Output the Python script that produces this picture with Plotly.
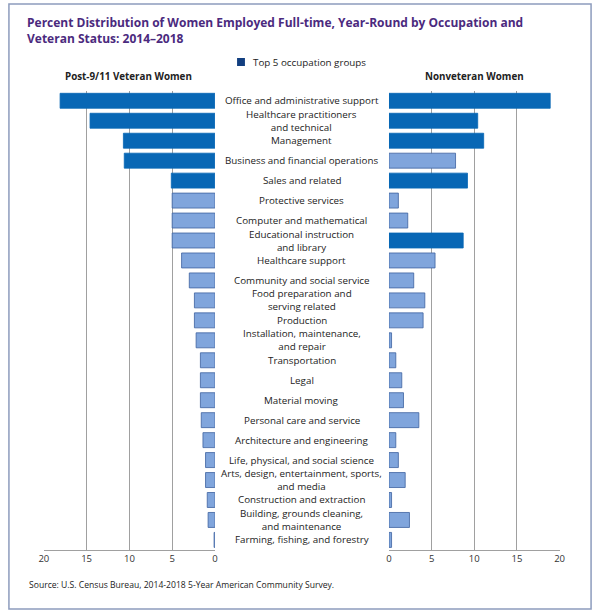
import plotly.graph_objects as go

categories = [
    "Office and administrative support",
    "Healthcare practitioners<br>and technical",
    "Management",
    "Business and financial operations",
    "Sales and related",
    "Protective services",
    "Computer and mathematical",
    "Educational instruction<br>and library",
    "Healthcare support",
    "Community and social service",
    "Food preparation and<br>serving related",
    "Production",
    "Installation, maintenance,<br>and repair",
    "Transportation",
    "Legal",
    "Material moving",
    "Personal care and service",
    "Architecture and engineering",
    "Life, physical, and social science",
    "Arts, design, entertainment, sports,<br>and media",
    "Construction and extraction",
    "Building, grounds cleaning,<br>and maintenance",
    "Farming, fishing, and forestry",
]

veteran = [18.1, 14.6, 10.7, 10.6, 5.1, 5.0, 5.0, 5.0, 3.9, 3.0, 2.4, 2.4,
           2.2, 1.7, 1.7, 1.7, 1.6, 1.4, 1.1, 1.1, 0.9, 0.8, 0.1]
nonveteran = [18.9, 10.4, 11.1, 7.8, 9.2, 1.1, 2.2, 8.7, 5.4, 2.9, 4.2, 4.0,
              0.3, 0.8, 1.5, 1.7, 3.5, 0.8, 1.1, 1.9, 0.3, 2.4, 0.3]
vet_top5 = ["Office and administrative support", "Healthcare practitioners<br>and technical",
            "Management", "Business and financial operations", "Sales and related"]
nonvet_top5 = ["Office and administrative support", "Healthcare practitioners<br>and technical",
               "Management", "Sales and related", "Educational instruction<br>and library"]
tick_vals = [0, 5, 10, 15, 20]

DARK = "#0867b5"
LIGHT = "#80a5dc"
EDGE = "#3d62a0"

ypos = list(range(len(categories)))

def colors(top):
    return [DARK if c in top else LIGHT for c in categories]

def edges(top):
    return [DARK if c in top else EDGE for c in categories]

fig = go.Figure()
fig.add_trace(go.Bar(x=veteran, y=ypos, orientation="h", xaxis="x", yaxis="y",
                     marker=dict(color=colors(vet_top5), line=dict(color=edges(vet_top5), width=0.8)),
                     width=0.75, showlegend=False, hoverinfo="x"))
fig.add_trace(go.Bar(x=nonveteran, y=ypos, orientation="h", xaxis="x2", yaxis="y2",
                     marker=dict(color=colors(nonvet_top5), line=dict(color=edges(nonvet_top5), width=0.8)),
                     width=0.75, showlegend=False, hoverinfo="x"))

ydom = [1 - 549.9 / 614, 1 - 90.8 / 614]
axis_common = dict(tickvals=tick_vals, showgrid=True, gridcolor="#a0a0a0", gridwidth=1,
                   zeroline=False, showline=True, linecolor="#a0a0a0", linewidth=1,
                   ticks="", tickfont=dict(size=9.5, color="#333333", family="Open Sans"),
                   fixedrange=True)
fig.update_layout(
    width=600, height=614,
    margin=dict(l=0, r=0, t=0, b=0),
    paper_bgcolor="white", plot_bgcolor="white",
    bargap=0.25,
    xaxis=dict(domain=[39.5 / 600, 213.5 / 600], range=[20, 0], **axis_common),
    xaxis2=dict(domain=[390.5 / 600, 564 / 600], range=[0, 20], **axis_common),
    yaxis=dict(domain=ydom, range=[22.5, -0.5], showticklabels=False, showgrid=False,
               zeroline=False, anchor="x", fixedrange=True),
    yaxis2=dict(domain=ydom, range=[22.5, -0.5], showticklabels=False, showgrid=False,
                zeroline=False, anchor="x2", fixedrange=True),
    font=dict(family="Open Sans", color="#222222"),
)

# Category labels in the middle
for i, c in enumerate(categories):
    fig.add_annotation(x=302 / 600, xref="paper", y=i, yref="y", text=c, showarrow=False,
                       xanchor="center", yanchor="middle", align="center",
                       font=dict(size=9.8, color="#222222", family="Open Sans"))

# Title
fig.add_annotation(x=20 / 600, y=1 - 12 / 614, xref="paper", yref="paper", xanchor="left", yanchor="top",
                   align="left", showarrow=False,
                   text="<b>Percent Distribution of Women Employed Full-time, Year-Round by Occupation and<br>Veteran Status: 2014–2018</b>",
                   font=dict(size=12, color="#4b2a7e", family="Open Sans"))
# Legend
fig.add_shape(type="rect", xref="paper", yref="paper", x0=236 / 600, x1=244 / 600,
              y0=1 - 66 / 614, y1=1 - 58 / 614, fillcolor="#123f80", line=dict(width=0))
fig.add_annotation(x=250 / 600, y=1 - 62 / 614, xref="paper", yref="paper", xanchor="left",
                   yanchor="middle", showarrow=False, text="Top 5 occupation groups",
                   font=dict(size=9.8, color="#222222", family="Open Sans"))
# Panel subtitles
fig.add_annotation(x=126 / 600, y=1 - 76 / 614, xref="paper", yref="paper", xanchor="center",
                   yanchor="middle", showarrow=False, text="<b>Post-9/11 Veteran Women</b>",
                   font=dict(size=9.8, color="#222222", family="Open Sans"))
fig.add_annotation(x=477 / 600, y=1 - 76 / 614, xref="paper", yref="paper", xanchor="center",
                   yanchor="middle", showarrow=False, text="<b>Nonveteran Women</b>",
                   font=dict(size=9.8, color="#222222", family="Open Sans"))
# Source
fig.add_annotation(x=22 / 600, y=1 - 585 / 614, xref="paper", yref="paper", xanchor="left",
                   yanchor="middle", showarrow=False,
                   text="Source: U.S. Census Bureau, 2014-2018 5-Year American Community Survey.",
                   font=dict(size=8.6, color="#222222", family="Open Sans"))
# Frame
fig.add_shape(type="rect", xref="paper", yref="paper", x0=4 / 600, x1=596 / 600,
              y0=1 - 609 / 614, y1=1 - 4 / 614, line=dict(color="#8d9cbd", width=1.5),
              fillcolor="rgba(0,0,0,0)")

fig.write_html("out.html", config={"displayModeBar": False, "staticPlot": False},
               post_script="document.body.style.margin='0';document.body.style.overflow='hidden';")
